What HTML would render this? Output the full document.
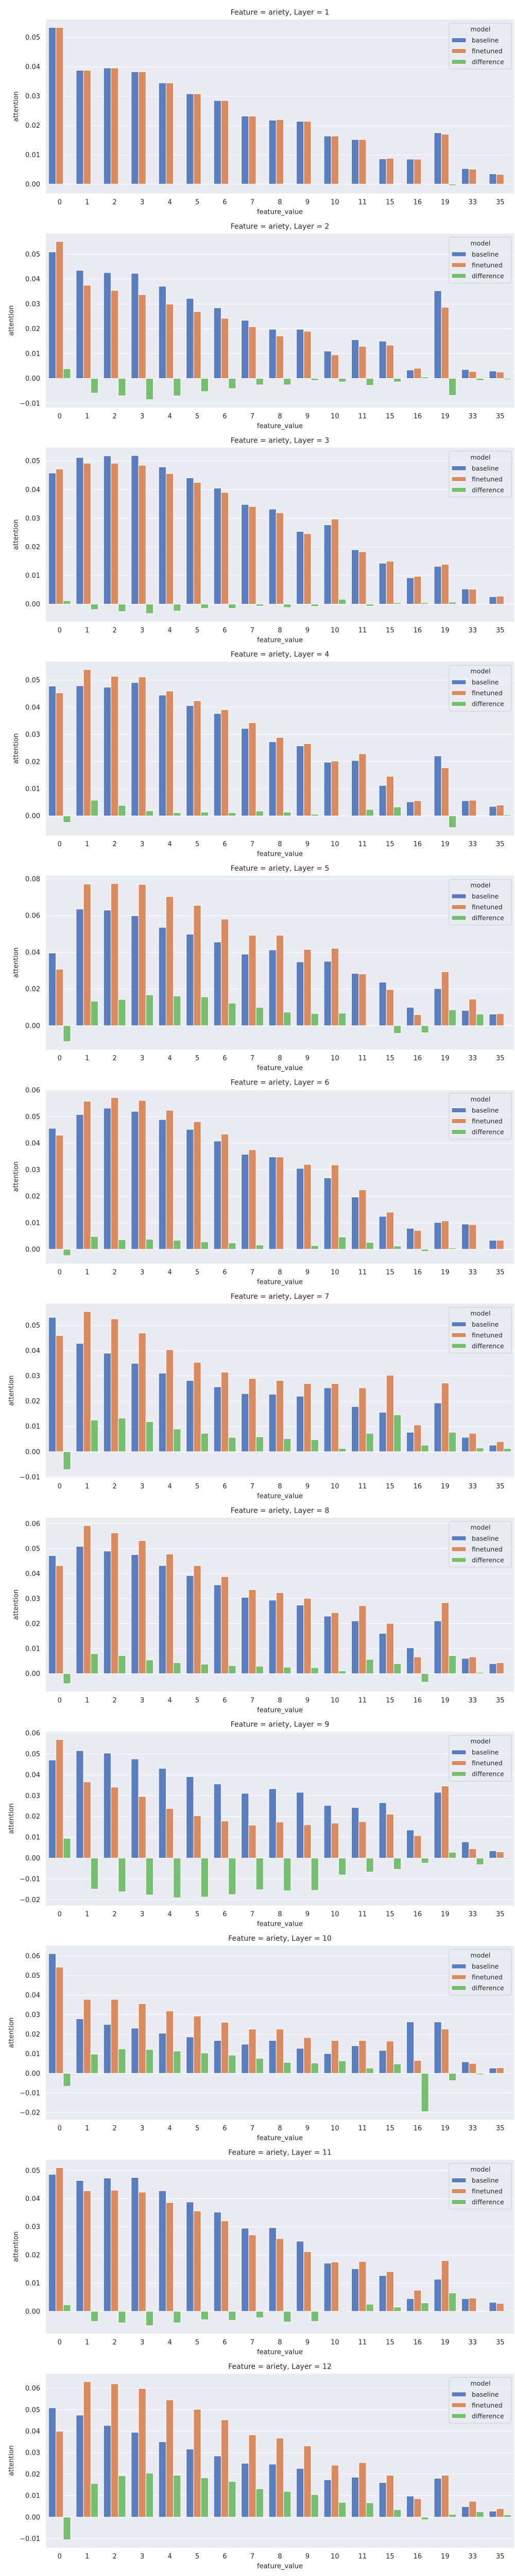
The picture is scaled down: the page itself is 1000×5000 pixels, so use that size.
<!DOCTYPE html>
<html><head><meta charset="utf-8">
<style>
html,body{margin:0;padding:0;background:#fff;}
svg{display:block;font-family:"DejaVu Sans","Liberation Sans",sans-serif;}
</style></head>
<body>
<svg id="fig" width="1000" height="5000" viewBox="0 0 1000 5000" xmlns="http://www.w3.org/2000/svg"></svg>
<script>
const categories = ["0","1","2","3","4","5","6","7","8","9","10","11","15","16","19","33","35"];
const seriesNames = ["baseline","finetuned","difference"];
const layerLabels = [1,2,3,4,5,6,7,8,9,10,11,12];
const yTickStep = [0.01,0.01,0.01,0.01,0.02,0.01,0.01,0.01,0.01,0.01,0.01,0.01];

const L1_baseline = [0.0534,0.0388,0.0396,0.0383,0.0345,0.0308,0.0285,0.0232,0.0218,0.0214,0.0164,0.0152,0.0086,0.0085,0.0175,0.0053,0.0035];
const L1_finetuned = [0.0534,0.0388,0.0396,0.0383,0.0345,0.0308,0.0285,0.0232,0.0220,0.0214,0.0164,0.0152,0.0088,0.0085,0.0170,0.0051,0.0033];
const L1_difference = [0.0001,0,0,0,0,0,0,0.0001,0.0001,0,0,0,0.0001,0,-0.0005,0,0];

const L2_baseline = [0.0509,0.0435,0.0426,0.0423,0.0371,0.0322,0.0284,0.0234,0.0198,0.0198,0.0110,0.0156,0.0150,0.0034,0.0353,0.0036,0.0030];
const L2_finetuned = [0.0551,0.0375,0.0354,0.0337,0.0299,0.0269,0.0242,0.0208,0.0171,0.0190,0.0095,0.0129,0.0134,0.0041,0.0286,0.0028,0.0026];
const L2_difference = [0.0039,-0.0059,-0.0070,-0.0085,-0.0070,-0.0053,-0.0041,-0.0026,-0.0026,-0.0008,-0.0014,-0.0028,-0.0014,0.0006,-0.0068,-0.0008,-0.0005];

const L3_baseline = [0.0458,0.0512,0.0518,0.0519,0.0479,0.0441,0.0405,0.0348,0.0332,0.0254,0.0277,0.0190,0.0143,0.0092,0.0132,0.0053,0.0026];
const L3_finetuned = [0.0472,0.0492,0.0492,0.0485,0.0456,0.0425,0.0390,0.0341,0.0319,0.0246,0.0297,0.0183,0.0150,0.0097,0.0139,0.0052,0.0028];
const L3_difference = [0.0012,-0.0019,-0.0026,-0.0033,-0.0024,-0.0015,-0.0015,-0.0007,-0.0012,-0.0008,0.0017,-0.0007,0.0005,0.0005,0.0007,-0.0002,0.0002];

const L4_baseline = [0.0478,0.0479,0.0474,0.0491,0.0445,0.0406,0.0377,0.0322,0.0273,0.0258,0.0198,0.0204,0.0112,0.0052,0.0221,0.0056,0.0035];
const L4_finetuned = [0.0453,0.0539,0.0514,0.0512,0.0460,0.0424,0.0391,0.0343,0.0289,0.0266,0.0202,0.0229,0.0146,0.0056,0.0177,0.0058,0.0040];
const L4_difference = [-0.0024,0.0058,0.0039,0.0019,0.0012,0.0014,0.0012,0.0018,0.0014,0.0006,0.0001,0.0024,0.0033,0.0001,-0.0043,0.0001,0.0004];

const L5_baseline = [0.0396,0.0636,0.0630,0.0599,0.0536,0.0499,0.0456,0.0390,0.0413,0.0348,0.0351,0.0285,0.0237,0.0100,0.0202,0.0083,0.0063];
const L5_finetuned = [0.0308,0.0772,0.0775,0.0770,0.0704,0.0656,0.0581,0.0493,0.0493,0.0416,0.0422,0.0282,0.0197,0.0060,0.0294,0.0145,0.0066];
const L5_difference = [-0.0087,0.0134,0.0143,0.0168,0.0162,0.0157,0.0123,0.0100,0.0074,0.0066,0.0068,-0.0002,-0.0042,-0.0039,0.0086,0.0063,0.0003];

const L6_baseline = [0.0456,0.0508,0.0532,0.0520,0.0489,0.0452,0.0408,0.0358,0.0348,0.0305,0.0269,0.0197,0.0124,0.0079,0.0101,0.0095,0.0034];
const L6_finetuned = [0.0430,0.0558,0.0572,0.0561,0.0524,0.0481,0.0434,0.0375,0.0348,0.0320,0.0318,0.0224,0.0140,0.0071,0.0107,0.0093,0.0034];
const L6_difference = [-0.0024,0.0048,0.0036,0.0038,0.0034,0.0028,0.0024,0.0016,0,0.0014,0.0046,0.0026,0.0012,-0.0008,0.0005,-0.0003,-0.0001];

const L7_baseline = [0.0532,0.0429,0.0390,0.0350,0.0311,0.0282,0.0257,0.0230,0.0228,0.0220,0.0253,0.0179,0.0156,0.0077,0.0193,0.0057,0.0026];
const L7_finetuned = [0.0460,0.0555,0.0526,0.0470,0.0404,0.0354,0.0315,0.0290,0.0282,0.0270,0.0270,0.0253,0.0303,0.0106,0.0272,0.0073,0.0040];
const L7_difference = [-0.0071,0.0125,0.0133,0.0119,0.0090,0.0073,0.0057,0.0059,0.0052,0.0048,0.0013,0.0073,0.0146,0.0026,0.0077,0.0015,0.0013];

const L8_baseline = [0.0472,0.0509,0.0490,0.0476,0.0432,0.0392,0.0355,0.0305,0.0294,0.0274,0.0230,0.0211,0.0161,0.0103,0.0211,0.0061,0.0040];
const L8_finetuned = [0.0432,0.0592,0.0563,0.0532,0.0478,0.0432,0.0388,0.0336,0.0324,0.0301,0.0244,0.0272,0.0201,0.0067,0.0284,0.0067,0.0044];
const L8_difference = [-0.0040,0.0080,0.0072,0.0055,0.0044,0.0038,0.0032,0.0030,0.0026,0.0024,0.0011,0.0057,0.0040,-0.0034,0.0072,0.0005,0.0003];

const L9_baseline = [0.0471,0.0516,0.0504,0.0476,0.0431,0.0391,0.0356,0.0311,0.0333,0.0316,0.0253,0.0243,0.0266,0.0135,0.0316,0.0078,0.0035];
const L9_finetuned = [0.0569,0.0366,0.0341,0.0296,0.0238,0.0203,0.0178,0.0158,0.0173,0.0160,0.0168,0.0175,0.0211,0.0108,0.0346,0.0045,0.0030];
const L9_difference = [0.0095,-0.0149,-0.0162,-0.0177,-0.0190,-0.0187,-0.0175,-0.0152,-0.0157,-0.0155,-0.0081,-0.0067,-0.0054,-0.0024,0.0028,-0.0032,-0.0004];

const L10_baseline = [0.0612,0.0279,0.0250,0.0231,0.0205,0.0186,0.0168,0.0149,0.0168,0.0128,0.0101,0.0141,0.0117,0.0263,0.0263,0.0059,0.0027];
const L10_finetuned = [0.0543,0.0378,0.0378,0.0356,0.0319,0.0293,0.0261,0.0226,0.0226,0.0183,0.0168,0.0168,0.0165,0.0066,0.0226,0.0051,0.0029];
const L10_difference = [-0.0066,0.0098,0.0125,0.0122,0.0114,0.0104,0.0093,0.0077,0.0056,0.0053,0.0064,0.0027,0.0048,-0.0196,-0.0037,-0.0007,0.0001];

const L11_baseline = [0.0486,0.0464,0.0473,0.0475,0.0428,0.0388,0.0352,0.0295,0.0297,0.0249,0.0171,0.0151,0.0127,0.0045,0.0114,0.0045,0.0032];
const L11_finetuned = [0.0510,0.0428,0.0430,0.0423,0.0386,0.0356,0.0321,0.0271,0.0258,0.0212,0.0175,0.0177,0.0141,0.0075,0.0180,0.0047,0.0028];
const L11_difference = [0.0023,-0.0036,-0.0041,-0.0051,-0.0041,-0.0030,-0.0032,-0.0023,-0.0038,-0.0036,0.0003,0.0025,0.0015,0.0030,0.0065,0.0001,-0.0003];

const L12_baseline = [0.0509,0.0475,0.0427,0.0395,0.0351,0.0317,0.0285,0.0251,0.0247,0.0227,0.0174,0.0186,0.0161,0.0098,0.0181,0.0049,0.0028];
const L12_finetuned = [0.0400,0.0631,0.0621,0.0599,0.0546,0.0502,0.0453,0.0383,0.0368,0.0332,0.0242,0.0254,0.0195,0.0086,0.0195,0.0074,0.0040];
const L12_difference = [-0.0105,0.0157,0.0193,0.0205,0.0195,0.0183,0.0166,0.0132,0.0120,0.0105,0.0069,0.0067,0.0035,-0.0012,0.0013,0.0025,0.0011];

const layerBaseline = [L1_baseline,L2_baseline,L3_baseline,L4_baseline,L5_baseline,L6_baseline,L7_baseline,L8_baseline,L9_baseline,L10_baseline,L11_baseline,L12_baseline];
const layerFinetuned = [L1_finetuned,L2_finetuned,L3_finetuned,L4_finetuned,L5_finetuned,L6_finetuned,L7_finetuned,L8_finetuned,L9_finetuned,L10_finetuned,L11_finetuned,L12_finetuned];
const layerDifference = [L1_difference,L2_difference,L3_difference,L4_difference,L5_difference,L6_difference,L7_difference,L8_difference,L9_difference,L10_difference,L11_difference,L12_difference];

const COLORS = ["#597dbf","#d98b5f","#76bf71"];
const NS = "http://www.w3.org/2000/svg";
const fig = document.getElementById("fig");
const AX_L = 89, AX_R = 998, AX_H = 337.5, PANEL_STEP = 415.4, FIRST_TOP = 38;

function mk(tag, attrs, parent){
  const e = document.createElementNS(NS, tag);
  for (const k in attrs) e.setAttribute(k, attrs[k]);
  parent.appendChild(e);
  return e;
}
function fmt(v){
  const s = Math.abs(v).toFixed(2);
  return (v < -1e-9 ? "\u2212" : "") + s;
}

for (let p = 0; p < layerLabels.length; p++) {
  const top = FIRST_TOP + PANEL_STEP * p;
  const series = [layerBaseline[p], layerFinetuned[p], layerDifference[p]];
  let mn = 0, mx = 0;
  series.forEach(s => s.forEach(v => { mn = Math.min(mn, v); mx = Math.max(mx, v); }));
  const span = mx - mn;
  const y0 = mn - 0.05 * span, y1 = mx + 0.05 * span;
  const yScale = v => top + AX_H * (y1 - v) / (y1 - y0);
  const cw = (AX_R - AX_L) / categories.length;
  const xCenter = i => AX_L + (i + 0.5) * cw;

  const g = mk("g", {}, fig);
  
  

  const bg = mk("rect", {x: AX_L, y: top, width: AX_R - AX_L, height: AX_H, fill: "#eaeaf2"}, g);
  
  

  // y ticks + grid
  const step = yTickStep[p];
  let hasNeg = false;
  for (let k = Math.ceil(y0 / step - 1e-6); k <= Math.floor(y1 / step + 1e-6); k++) {
    const v = k * step;
    if (v < y0 || v > y1) continue;
    if (v < -1e-9) hasNeg = true;
    const y = yScale(v);
    const gl = mk("line", {x1: AX_L, x2: AX_R, y1: y, y2: y, stroke: "#ffffff", "stroke-width": 1}, g);
    
    
    const t = mk("text", {x: 78, y: y + 4.5, "text-anchor": "end", "font-size": 13, fill: "#262626"}, g);
    
    
    t.textContent = fmt(v);
  }

  // bars
  const bw = cw * 0.8 / 3;
  for (let s = 0; s < 3; s++) {
    for (let i = 0; i < categories.length; i++) {
      const v = series[s][i];
      const x = xCenter(i) - cw * 0.4 + s * bw;
      const ya = yScale(Math.max(v, 0)), yb = yScale(Math.min(v, 0));
      const r = mk("rect", {x: x, y: ya, width: bw, height: Math.max(yb - ya, 0.01), fill: COLORS[s], stroke: "#ffffff", "stroke-width": 1}, g);
      
      
    }
  }

  // x tick labels
  for (let i = 0; i < categories.length; i++) {
    const t = mk("text", {x: xCenter(i), y: top + 358.5, "text-anchor": "middle", "font-size": 13, fill: "#262626"}, g);
    
    
    t.textContent = categories[i];
  }

  const xl = mk("text", {x: (AX_L + AX_R) / 2, y: top + 377.5, "text-anchor": "middle", "font-size": 13, fill: "#262626"}, g);
  
  
  xl.textContent = "feature_value";

  const ylx = hasNeg ? 26 : 35;
  const yl = mk("text", {x: ylx, y: top + AX_H / 2, "text-anchor": "middle", "font-size": 13, fill: "#262626", transform: "rotate(-90 " + ylx + " " + (top + AX_H / 2) + ")"}, g);
  
  
  yl.textContent = "attention";

  const tt = mk("text", {x: (AX_L + AX_R) / 2, y: top - 9.5, "text-anchor": "middle", "font-size": 14, fill: "#262626"}, g);
  
  
  tt.textContent = "Feature = ariety, Layer = " + layerLabels[p];

  // legend
  const lg = mk("g", {}, g);
  
  
  mk("rect", {x: 872, y: top + 7, width: 121, height: 89, rx: 3, fill: "#eaeaf2", "fill-opacity": 0.8, stroke: "#cccccc", "stroke-width": 1}, lg);
  const lt = mk("text", {x: 933, y: top + 23, "text-anchor": "middle", "font-size": 12.5, fill: "#262626"}, lg);
  
  
  lt.textContent = "model";
  for (let s = 0; s < 3; s++) {
    const cy = top + 40 + s * 21;
    const sw = mk("rect", {x: 877, y: cy - 4.5, width: 28, height: 9, fill: COLORS[s], stroke: "#ffffff", "stroke-width": 1}, lg);
    
    
    const lb = mk("text", {x: 916, y: cy + 4.5, "font-size": 12.5, fill: "#262626"}, lg);
    
    
    lb.textContent = seriesNames[s];
  }
}
</script>
</body></html>
